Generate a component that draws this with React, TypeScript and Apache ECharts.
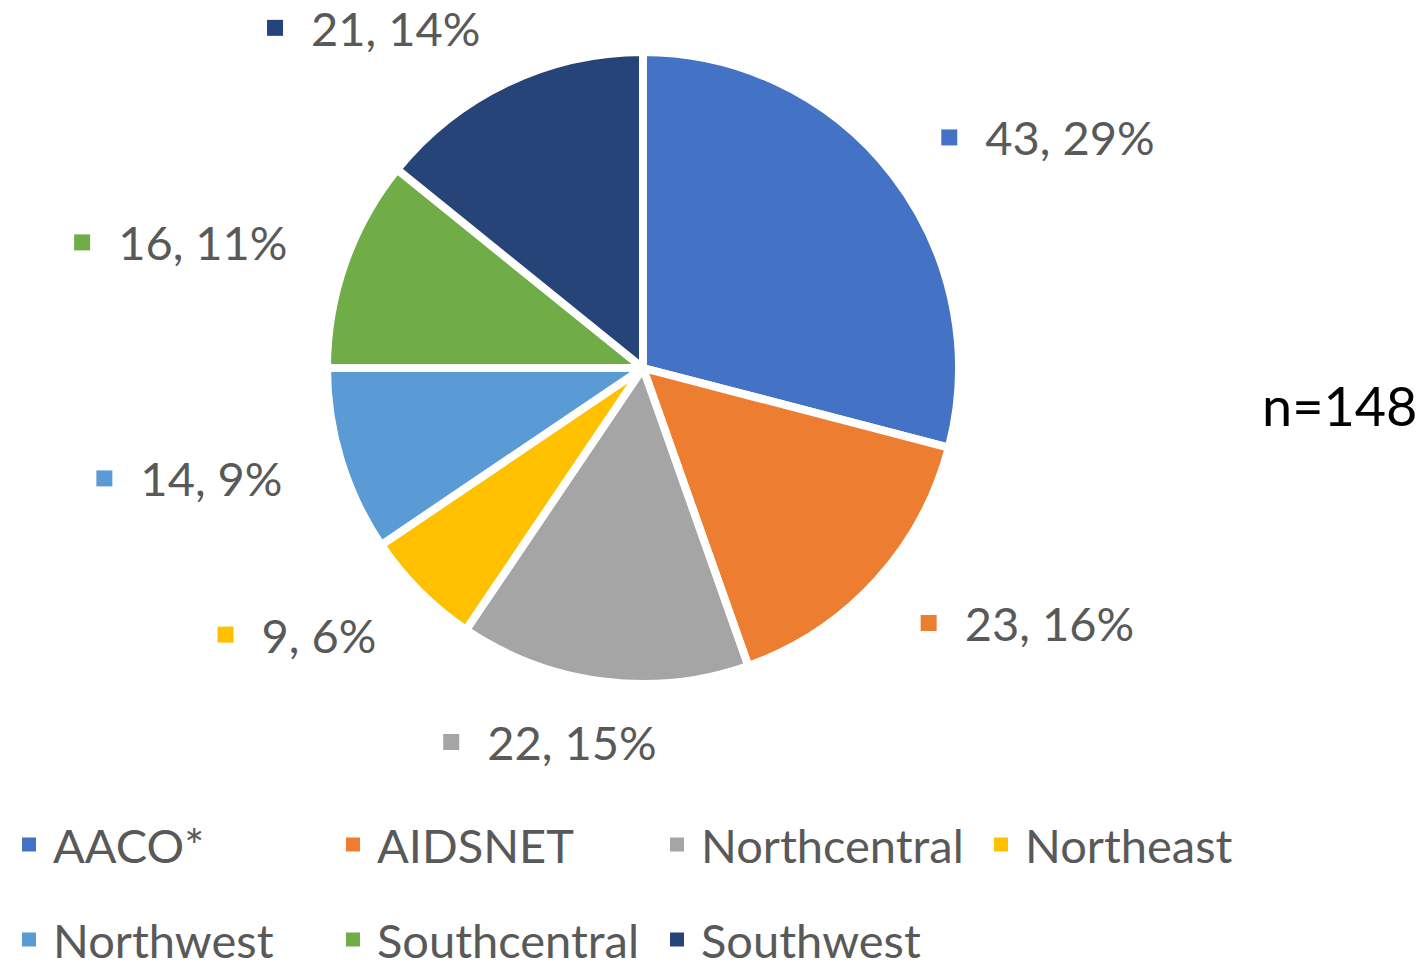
import React, { useEffect, useRef } from "react";
import * as echarts from "echarts";

const categories = ["AACO*", "AIDSNET", "Northcentral", "Northeast", "Northwest", "Southcentral", "Southwest"];
const values = [43, 23, 22, 9, 14, 16, 21];
const colors = ["#4472C4", "#ED7D31", "#A5A5A5", "#FFC000", "#5B9BD5", "#70AD47", "#264478"];
const totalLabel = "n=148";

const FONT = "Lato";
const CX = 643;
const CY = 368;
const R = 316;
const LABEL_DIST = 377;

export default function App() {
  const ref = useRef<HTMLDivElement>(null);
  useEffect(() => {
    if (!ref.current) return;
    const chart = echarts.init(ref.current, undefined, { renderer: "svg" });
    const total = values.reduce((a, b) => a + b, 0);
    const data = categories.map((name, i) => ({
      name,
      value: values[i],
      itemStyle: { color: colors[i] },
      label: {
        rich: {
          m: { width: 16, height: 16, backgroundColor: colors[i] },
          t: { fontSize: 47, color: "#595959", fontFamily: FONT, padding: [0, 0, 0, 28] },
        },
      },
    }));
    chart.setOption({
      animation: false,
      backgroundColor: "#ffffff",
      legend: {
        left: 15,
        top: 792,
        width: 1390,
        itemGap: 0,
        itemWidth: 16,
        itemHeight: 16,
        icon: "rect",
        data: categories,
        formatter: (name: string) => `{a|${name}}`,
        textStyle: {
          fontSize: 47,
          fontFamily: FONT,
          color: "#595959",
          rich: {
            a: { fontSize: 47, fontFamily: FONT, color: "#595959", width: 291, padding: [24, 0, 24, 11], lineHeight: 47 },
          },
        },
      },
      graphic: [
        {
          type: "text",
          left: 1262,
          top: 378,
          style: { text: totalLabel, fontSize: 54, fontFamily: FONT, fill: "#000000" },
        },
      ],
      series: [
        {
          type: "pie",
          center: [CX, CY],
          radius: R,
          startAngle: 90,
          clockwise: true,
          avoidLabelOverlap: false,
          itemStyle: { borderColor: "#ffffff", borderWidth: 8 },
          label: {
            show: true,
            position: "outside",
            formatter: (p: any) => `{m|}{t|${p.value}, ${Math.round(p.percent)}%}`,
          },
          labelLine: { show: false },
          labelLayout: (params: any) => {
            const i = params.dataIndex;
            let cum = 0;
            for (let j = 0; j < i; j++) cum += values[j];
            const mid = ((cum + values[i] / 2) / total) * Math.PI * 2;
            const dx = Math.sin(mid);
            const dy = -Math.cos(mid);
            const w = params.labelRect.width;
            const f = Math.max(-1, Math.min(1, dx / 0.3));
            return {
              x: CX + dx * LABEL_DIST + (f * w) / 2,
              y: CY + dy * LABEL_DIST,
              align: "center",
              verticalAlign: "middle",
            };
          },
          emphasis: { disabled: true },
          data,
        },
      ],
    });
    return () => chart.dispose();
  }, []);
  return <div ref={ref} style={{ position: "fixed", left: 0, top: 0, width: 1427, height: 963 }} />;
}
